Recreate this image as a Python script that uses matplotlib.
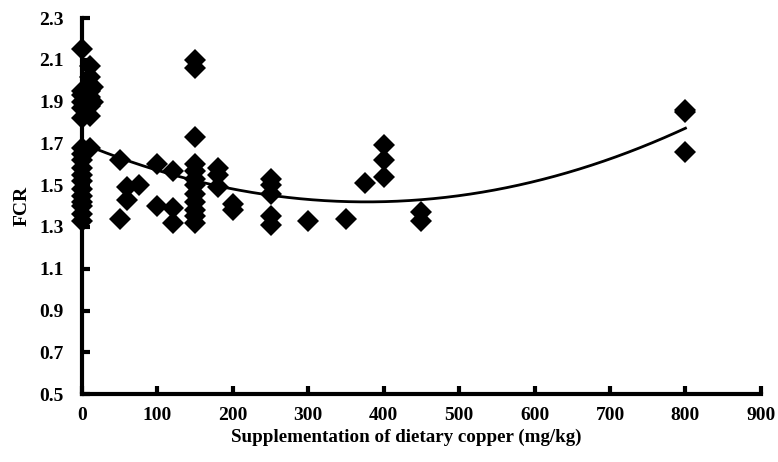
import numpy as np
import matplotlib
matplotlib.use("Agg")
import matplotlib.pyplot as plt

# Data: copper supplementation (mg/kg) and FCR
copper = [0]*18 + [10]*8 + [15]*2 + [50, 50, 60, 60, 75, 100, 100, 120, 120, 120] \
    + [150]*12 + [180, 180, 180, 200, 200] + [250]*5 + [300, 350, 375, 400, 400, 400, 450, 450, 800, 800, 800]
fcr = [2.15, 1.95, 1.93, 1.90, 1.87, 1.82, 1.68, 1.65, 1.62, 1.58, 1.55, 1.52, 1.48, 1.45, 1.42, 1.40, 1.36, 1.33] \
    + [2.07, 2.02, 1.98, 1.95, 1.92, 1.88, 1.83, 1.68] + [1.97, 1.90] \
    + [1.62, 1.34, 1.43, 1.49, 1.50, 1.60, 1.40, 1.57, 1.39, 1.32] \
    + [2.10, 2.06, 1.73, 1.60, 1.57, 1.53, 1.50, 1.46, 1.42, 1.38, 1.35, 1.32] \
    + [1.58, 1.55, 1.49, 1.41, 1.38] + [1.53, 1.50, 1.46, 1.35, 1.31] \
    + [1.33, 1.34, 1.51, 1.69, 1.62, 1.54, 1.37, 1.33, 1.86, 1.85, 1.66]

# Quadratic trend coefficients (a*x^2 + b*x + c)
trend_a = 1.971e-6
trend_b = -1.486e-3
trend_c = 1.70

xticks = [0, 100, 200, 300, 400, 500, 600, 700, 800, 900]
yticks = [0.5, 0.7, 0.9, 1.1, 1.3, 1.5, 1.7, 1.9, 2.1, 2.3]

plt.rcParams['font.family'] = ['Liberation Serif', 'DejaVu Serif']
plt.rcParams['font.weight'] = 'bold'

fig = plt.figure(figsize=(7.78, 4.62), dpi=100)
ax = fig.add_axes([0.1054, 0.147, 0.8726, 0.814])

ax.plot(copper, fcr, linestyle='none', marker='D', markersize=11.5,
        color='black', markeredgewidth=0, zorder=3, clip_on=False)

xs = np.linspace(0, 800, 200)
ax.plot(xs, trend_a*xs**2 + trend_b*xs + trend_c, color='black', lw=2, zorder=2)

ax.set_xlim(0, 900)
ax.set_ylim(0.5, 2.3)
ax.set_xticks(xticks)
ax.set_yticks(yticks)
ax.set_xticklabels([str(v) for v in xticks])
ax.set_yticklabels([f"{v:.1f}" for v in yticks])
for s in ['top', 'right']:
    ax.spines[s].set_visible(False)
for s in ['left', 'bottom']:
    ax.spines[s].set_linewidth(3)
ax.tick_params(axis='both', direction='in', length=6, width=3, labelsize=14)
ax.tick_params(axis='x', pad=9)
ax.tick_params(axis='y', pad=13)
ax.set_xlabel('Supplementation of dietary copper (mg/kg)', fontsize=13.7, fontweight='bold')
ax.xaxis.set_label_coords(0.477, -0.093)
ax.set_ylabel('FCR', fontsize=14, fontweight='bold', labelpad=6)

fig.savefig('out.png', dpi=100)
